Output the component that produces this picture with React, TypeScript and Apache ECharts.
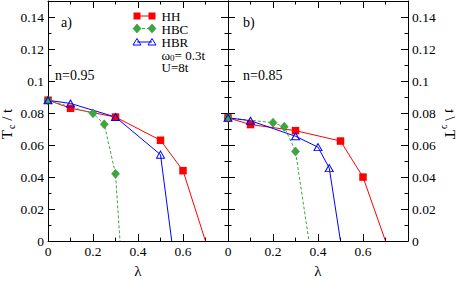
import React, { useEffect, useRef } from "react";
import * as echarts from "echarts";

// Panel a) n=0.95
const hhA: [number, number][] = [[0, 0.088], [0.1, 0.083], [0.3, 0.0775], [0.5, 0.063], [0.6, 0.044], [0.7, 0]];
const hbcA: [number, number][] = [[0, 0.088], [0.2, 0.0798], [0.25, 0.073], [0.3, 0.042], [0.32, 0]];
const hbrA: [number, number][] = [[0, 0.088], [0.1, 0.086], [0.3, 0.0775], [0.5, 0.054], [0.55, 0]];
// Panel b) n=0.85
const hhB: [number, number][] = [[0, 0.077], [0.1, 0.0728], [0.3, 0.069], [0.5, 0.0625], [0.6, 0.040], [0.7, 0]];
const hbcB: [number, number][] = [[0, 0.077], [0.2, 0.074], [0.25, 0.0714], [0.3, 0.056], [0.36, 0]];
const hbrB: [number, number][] = [[0, 0.077], [0.1, 0.0752], [0.3, 0.0655], [0.4, 0.0587], [0.45, 0.0456], [0.5, 0]];

const seriesNames = ["HH", "HBC", "HBR"];
const panelLabels = ["a)", "b)"];
const densityLabels = ["n=0.95", "n=0.85"];

const FONT = "'Liberation Serif', 'Times New Roman', Times, serif";
const RED = "#ff0000";
const GREEN = "#3aa83a";
const GREEN_DARK = "#2a7f2a";
const BLUE = "#0000ff";

function toData(pts: [number, number][]) {
  return pts.map((p, i) =>
    i === pts.length - 1 ? { value: p, symbol: "none" } : { value: p }
  );
}

function makeSeries(x: number, y: number, hh: [number, number][], hbc: [number, number][], hbr: [number, number][]) {
  return [
    {
      name: seriesNames[0], type: "line", xAxisIndex: x, yAxisIndex: y, data: toData(hh),
      symbol: "rect", symbolSize: 7.5,
      lineStyle: { color: RED, width: 1 }, itemStyle: { color: RED },
    },
    {
      name: seriesNames[1], type: "line", xAxisIndex: x, yAxisIndex: y, data: toData(hbc),
      symbol: "diamond", symbolSize: [8, 9],
      lineStyle: { color: GREEN, width: 1, type: [3, 2] },
      itemStyle: { color: GREEN, borderColor: GREEN_DARK, borderWidth: 0.5 },
    },
    {
      name: seriesNames[2], type: "line", xAxisIndex: x, yAxisIndex: y, data: toData(hbr),
      symbol: "triangle", symbolSize: [8, 7],
      lineStyle: { color: BLUE, width: 1 },
      itemStyle: { color: "rgba(0,0,0,0)", borderColor: BLUE, borderWidth: 1 },
    },
  ];
}

const axisCommon = {
  min: 0,
  axisLine: { show: true, onZero: false, lineStyle: { color: "#000", width: 1 } },
  axisTick: { show: true, inside: true, length: 7, lineStyle: { color: "#000" } },
  minorTick: { show: true, splitNumber: 2, length: 3.5, lineStyle: { color: "#000" } },
  splitLine: { show: false },
  minorSplitLine: { show: false },
};

const xFmt = (v: number) => (v > 0.75 ? "" : String(+v.toFixed(1)));
const yFmt = (v: number) => (v > 0.145 ? "" : String(+v.toFixed(2)));
const labelStyle = { color: "#000", fontFamily: FONT, fontSize: 13.5 };

function xAxis(grid: number, pos: "bottom" | "top", labels: boolean) {
  return {
    ...axisCommon, type: "value", gridIndex: grid, position: pos, max: 0.8, interval: 0.2,
    axisLabel: { show: labels, formatter: xFmt, margin: 3, ...labelStyle },
    name: labels ? "λ" : "", nameLocation: "middle", nameGap: 21,
    nameTextStyle: { color: "#000", fontFamily: FONT, fontSize: 15 },
  };
}

function yAxis(grid: number, pos: "left" | "right", labels: boolean) {
  return {
    ...axisCommon, type: "value", gridIndex: grid, position: pos, max: 0.15, interval: 0.02,
    axisLabel: { show: labels, formatter: yFmt, margin: 4, ...labelStyle },
  };
}

const tcRich = {
  T: { fontFamily: FONT, fontSize: 15, color: "#000", lineHeight: 15 },
  c: { fontFamily: FONT, fontSize: 10, color: "#000", padding: [9, 0, 0, 1], lineHeight: 10 },
  s: { fontFamily: FONT, fontSize: 15, color: "#000", lineHeight: 15 },
};

export default function App() {
  const ref = useRef<HTMLDivElement>(null);
  useEffect(() => {
    if (!ref.current) return;
    const chart = echarts.init(ref.current, null, { renderer: "svg" });
    const lx = 137, rx = 152;
    const textStyle = (t: string, x: number, y: number) => ({
      type: "text", x, y,
      style: { text: t, fontFamily: FONT, fontSize: 13, fill: "#000", verticalAlign: "middle", lineHeight: 12 },
    });
    chart.setOption({
      animation: false,
      backgroundColor: "#fff",
      grid: [
        { left: 48, top: 1, width: 180, height: 252 },
        { left: 228, top: 1, width: 180, height: 252 },
      ],
      xAxis: [xAxis(0, "bottom", true), xAxis(0, "top", false), xAxis(1, "bottom", true), xAxis(1, "top", false)],
      yAxis: [yAxis(0, "left", true), yAxis(0, "right", false), yAxis(1, "left", false), yAxis(1, "right", true)],
      series: [...makeSeries(0, 0, hhA, hbcA, hbrA), ...makeSeries(2, 3, hhB, hbcB, hbrB)],
      graphic: [
        // axis titles
        {
          type: "text", x: 7, y: 124, rotation: Math.PI / 2,
          style: { text: "{T|T}{c|c}{s| / t}", rich: tcRich, align: "center", verticalAlign: "middle" },
        },
        {
          type: "text", x: 450, y: 124, rotation: Math.PI / 2, scaleY: -1,
          style: { text: "{T|T}{c|c}{s| / t}", rich: tcRich, align: "center", verticalAlign: "middle" },
        },
        // panel annotations
        { type: "text", x: 61, y: 22, style: { text: panelLabels[0], fontFamily: FONT, fontSize: 14, fill: "#000", verticalAlign: "middle" } },
        { type: "text", x: 243, y: 22, style: { text: panelLabels[1], fontFamily: FONT, fontSize: 14, fill: "#000", verticalAlign: "middle" } },
        { type: "text", x: 55, y: 75, style: { text: densityLabels[0], fontFamily: FONT, fontSize: 14, fill: "#000", verticalAlign: "middle" } },
        { type: "text", x: 243, y: 75, style: { text: densityLabels[1], fontFamily: FONT, fontSize: 14, fill: "#000", verticalAlign: "middle" } },
        // legend HH
        { type: "line", shape: { x1: lx, y1: 16, x2: rx, y2: 16 }, style: { stroke: RED, lineWidth: 1 } },
        { type: "rect", shape: { x: lx - 3.5, y: 12.5, width: 7, height: 7 }, style: { fill: RED } },
        { type: "rect", shape: { x: rx - 3.5, y: 12.5, width: 7, height: 7 }, style: { fill: RED } },
        textStyle(seriesNames[0], 161.5, 16.5),
        // legend HBC
        { type: "line", shape: { x1: lx, y1: 28.5, x2: rx, y2: 28.5 }, style: { stroke: GREEN, lineWidth: 1, lineDash: [3, 2] } },
        { type: "polygon", shape: { points: [[lx, 24], [lx + 4, 28.5], [lx, 33], [lx - 4, 28.5]] }, style: { fill: GREEN, stroke: GREEN_DARK, lineWidth: 0.5 } },
        { type: "polygon", shape: { points: [[rx, 24], [rx + 4, 28.5], [rx, 33], [rx - 4, 28.5]] }, style: { fill: GREEN, stroke: GREEN_DARK, lineWidth: 0.5 } },
        textStyle(seriesNames[1], 161.5, 29),
        // legend HBR
        { type: "line", shape: { x1: lx, y1: 42, x2: rx, y2: 42 }, style: { stroke: BLUE, lineWidth: 1 } },
        { type: "polygon", shape: { points: [[lx, 38.5], [lx + 4, 45], [lx - 4, 45]] }, style: { fill: "none", stroke: BLUE, lineWidth: 1 } },
        { type: "polygon", shape: { points: [[rx, 38.5], [rx + 4, 45], [rx - 4, 45]] }, style: { fill: "none", stroke: BLUE, lineWidth: 1 } },
        textStyle(seriesNames[2], 161.5, 42),
        // parameters
        {
          type: "text", x: 161.5, y: 55.5,
          style: {
            text: "{w|ω}{z|0}{w|= 0.3t}", verticalAlign: "middle",
            rich: {
              w: { fontFamily: FONT, fontSize: 13, color: "#000", lineHeight: 11 },
              z: { fontFamily: FONT, fontSize: 9, color: "#000", padding: [5, 0, 0, 0], lineHeight: 8 },
            },
          },
        },
        textStyle("U=8t", 161.5, 67.5),
      ],
    });
    return () => chart.dispose();
  }, []);
  return <div ref={ref} style={{ position: "fixed", left: 0, top: 0, width: 457, height: 283 }} />;
}
